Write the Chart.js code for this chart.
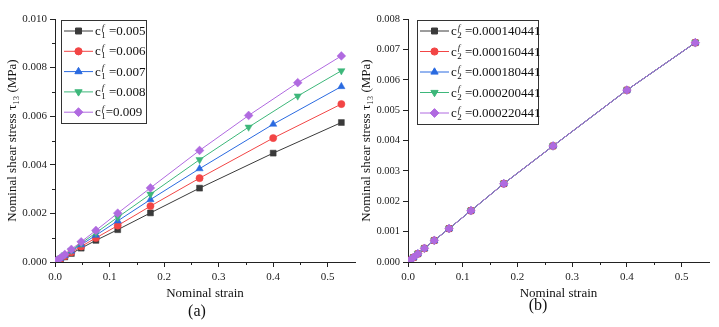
<!DOCTYPE html>
<html>
<head>
<meta charset="utf-8">
<script src="https://cdn.jsdelivr.net/npm/chart.js@4"></script>
<style>
  body { margin: 0; background: #fff; }
  #wrap { position: relative; width: 719px; height: 327px; }
  canvas { position: absolute; top: 0; }
  .tag { position: absolute; font: 16px "Liberation Serif", serif; color: #111; line-height: 16px; text-align: center; width: 40px; }
</style>
</head>
<body>
<div id="wrap">
  <canvas id="chartA" width="360" height="327" style="left:0"></canvas>
  <canvas id="chartB" width="359" height="327" style="left:360px"></canvas>
  <div class="tag" style="left:177px; top:303px">(a)</div>
  <div class="tag" style="left:518px; top:297px">(b)</div>
</div>
<script>
// datos
const strain = [0, 0.004, 0.01, 0.018, 0.03, 0.048, 0.075, 0.115, 0.175, 0.265, 0.4, 0.525];
const strainLong = [0, 0.004, 0.01, 0.018, 0.03, 0.048, 0.075, 0.115, 0.175, 0.265, 0.355, 0.445, 0.525];

// (a) c1f
const labelsA = ['=0.005', '=0.006', '=0.007', '=0.008', '=0.009'];
const stressA1 = [0, 0.00005, 0.00012, 0.00021, 0.00035, 0.00057, 0.00089, 0.00133, 0.00202, 0.00304, 0.00448, 0.00574];
const stressA2 = [0, 0.000055, 0.00013, 0.00024, 0.0004, 0.00064, 0.00099, 0.0015, 0.0023, 0.00345, 0.0051, 0.0065];
const stressA3 = [0, 0.00006, 0.00015, 0.00027, 0.00045, 0.00071, 0.0011, 0.00169, 0.00257, 0.00384, 0.00567, 0.00722];
const stressA4 = [0, 0.000065, 0.00016, 0.00029, 0.00048, 0.00077, 0.0012, 0.00184, 0.00279, 0.00421, 0.00555, 0.00683, 0.00787];
const stressA5 = [0, 0.00007, 0.00017, 0.00031, 0.00052, 0.00083, 0.0013, 0.00201, 0.00305, 0.00459, 0.00603, 0.00738, 0.00848];

// (b) c2f  (las cinco curvas coinciden)
const labelsB = ['=0.000140441', '=0.000160441', '=0.000180441', '=0.000200441', '=0.000220441'];
const stressB = [0, 0.00006, 0.00015, 0.00027, 0.00045, 0.00071, 0.0011, 0.00169, 0.00258, 0.00382, 0.00566, 0.00722];

const ticksXA = [0, 0.1, 0.2, 0.3, 0.4, 0.5];
const ticksYA = [0, 0.002, 0.004, 0.006, 0.008, 0.010];
const ticksYB = [0, 0.001, 0.002, 0.003, 0.004, 0.005, 0.006, 0.007, 0.008];

const colors = ['#3a3a3a', '#f24545', '#2a6ae0', '#3db77a', '#b06ae0'];
const markers = [
  { pointStyle: 'rect', rotation: 0, radius: 4.2 },
  { pointStyle: 'circle', rotation: 0, radius: 3.6 },
  { pointStyle: 'triangle', rotation: 0, radius: 4.2 },
  { pointStyle: 'triangle', rotation: 180, radius: 4.2 },
  { pointStyle: 'rectRot', rotation: 0, radius: 4.4 }
];

const serif = '"Liberation Serif", "Times New Roman", serif';
const axisColor = '#222';

function toPoints(xs, ys) {
  return ys.map((y, i) => ({ x: xs[i], y: y }));
}

function makeDataset(points, i) {
  const m = markers[i];
  return {
    data: points,
    borderColor: colors[i],
    backgroundColor: colors[i],
    borderWidth: 1,
    tension: 0,
    pointStyle: m.pointStyle,
    pointRotation: m.rotation,
    pointRadius: m.radius,
    pointBackgroundColor: colors[i],
    pointBorderColor: colors[i],
    pointBorderWidth: 0.5,
    order: 4 - i
  };
}

// Leyenda con caja, linea + marcador y texto c^f_n
const boxLegend = {
  id: 'boxLegend',
  afterDraw(chart, args, opts) {
    const ctx = chart.ctx;
    ctx.save();
    ctx.strokeStyle = '#333';
    ctx.lineWidth = 1;
    ctx.strokeRect(opts.x + 0.5, opts.y + 0.5, opts.w, opts.h);
    opts.labels.forEach((txt, i) => {
      const y = opts.y + opts.first + i * opts.gap;
      const x0 = opts.x + 3;
      ctx.strokeStyle = colors[i];
      ctx.lineWidth = 1;
      ctx.beginPath();
      ctx.moveTo(x0, y);
      ctx.lineTo(x0 + 29, y);
      ctx.stroke();
      ctx.fillStyle = colors[i];
      ctx.strokeStyle = colors[i];
      Chart.helpers.drawPoint(ctx, {
        pointStyle: markers[i].pointStyle,
        rotation: markers[i].rotation,
        radius: markers[i].radius,
        borderWidth: 0.5
      }, x0 + 14.5, y);

      let tx = opts.x + 34;
      ctx.fillStyle = '#111';
      ctx.textBaseline = 'alphabetic';
      ctx.font = '13px ' + serif;
      ctx.fillText('c', tx, y + 4);
      tx += ctx.measureText('c').width + 0.5;
      ctx.font = 'italic 9px ' + serif;
      ctx.fillText('f', tx + 0.5, y - 1.5);
      ctx.font = '9px ' + serif;
      ctx.fillText(opts.sub, tx, y + 7);
      tx += 4.5;
      ctx.font = '13px ' + serif;
      ctx.fillText((i < 4 || opts.sub !== '1') ? ' ' + txt : txt, tx, y + 4);
    });
    ctx.restore();
  }
};

// marcas menores
const minorTicks = {
  id: 'minorTicks',
  afterDraw(chart, args, opts) {
    const ctx = chart.ctx;
    const sx = chart.scales.x, sy = chart.scales.y;
    ctx.save();
    ctx.strokeStyle = axisColor;
    ctx.lineWidth = 1;
    ctx.beginPath();
    (opts.x || []).forEach(v => {
      const px = Math.round(sx.getPixelForValue(v)) + 0.5;
      ctx.moveTo(px, sy.bottom);
      ctx.lineTo(px, sy.bottom + 3);
    });
    (opts.y || []).forEach(v => {
      const py = Math.round(sy.getPixelForValue(v)) + 0.5;
      ctx.moveTo(sx.left, py);
      ctx.lineTo(sx.left - 3, py);
    });
    ctx.stroke();
    ctx.restore();
  }
};

function makeOptions(cfg) {
  return {
    responsive: false,
    animation: false,
    devicePixelRatio: 1,
    layout: { padding: { top: 19, right: cfg.padRight, left: 0, bottom: 0 } },
    plugins: {
      legend: { display: false },
      tooltip: { enabled: false },
      boxLegend: cfg.legend,
      minorTicks: cfg.minor
    },
    scales: {
      x: {
        type: 'linear',
        min: 0,
        max: 0.55,
        afterFit: s => { s.height = 65; s.paddingLeft = 0; s.paddingRight = 0; },
        afterBuildTicks: s => { s.ticks = ticksXA.map(v => ({ value: v })); },
        ticks: {
          autoSkip: false,
          maxRotation: 0,
          padding: 4,
          color: axisColor,
          font: { family: serif, size: 11 },
          callback: v => v.toFixed(1)
        },
        grid: { drawOnChartArea: false, drawTicks: true, tickLength: 5, tickColor: axisColor },
        border: { display: true, color: axisColor, width: 1 },
        title: {
          display: true,
          text: 'Nominal strain',
          color: '#111',
          font: { family: serif, size: 13 },
          padding: { top: 0, bottom: 26 }
        }
      },
      y: {
        type: 'linear',
        min: 0,
        max: cfg.yMax,
        afterFit: s => { s.width = cfg.yWidth; s.paddingTop = 0; s.paddingBottom = 0; },
        afterBuildTicks: s => { s.ticks = cfg.yTicks.map(v => ({ value: v })); },
        ticks: {
          autoSkip: false,
          padding: 3,
          color: axisColor,
          font: { family: serif, size: cfg.yFont },
          callback: v => v.toFixed(3)
        },
        grid: { drawOnChartArea: false, drawTicks: true, tickLength: 5, tickColor: axisColor },
        border: { display: true, color: axisColor, width: 1 },
        title: {
          display: true,
          text: 'Nominal shear stress \u03c4\u2081\u2083 (MPa)',
          color: '#111',
          font: { family: serif, size: 13 },
          padding: { top: cfg.yTitlePad, bottom: 0 }
        }
      }
    }
  };
}

const dataA = [
  toPoints(strain, stressA1),
  toPoints(strain, stressA2),
  toPoints(strain, stressA3),
  toPoints(strainLong, stressA4),
  toPoints(strainLong, stressA5)
];

new Chart(document.getElementById('chartA').getContext('2d'), {
  type: 'line',
  data: { datasets: dataA.map((pts, i) => makeDataset(pts, i)) },
  options: makeOptions({
    padRight: 5,
    yMax: 0.010,
    yWidth: 55,
    yFont: 11,
    yTitlePad: 5,
    yTicks: ticksYA,
    legend: { x: 61, y: 20, w: 85, h: 103, first: 11, gap: 20.3, sub: '1', labels: labelsA },
    minor: { x: [0.05, 0.15, 0.25, 0.35, 0.45], y: [0.001, 0.003, 0.005, 0.007, 0.009] }
  }),
  plugins: [boxLegend, minorTicks]
});

new Chart(document.getElementById('chartB').getContext('2d'), {
  type: 'line',
  data: { datasets: labelsB.map((l, i) => makeDataset(toPoints(strain, stressB), i)) },
  options: makeOptions({
    padRight: 10,
    yMax: 0.008,
    yWidth: 48,
    yFont: 10.5,
    yTitlePad: -1,
    yTicks: ticksYB,
    legend: { x: 57, y: 20, w: 121, h: 104, first: 11, gap: 20.5, sub: '2', labels: labelsB },
    minor: { x: [0.05, 0.15, 0.25, 0.35, 0.45], y: [] }
  }),
  plugins: [boxLegend, minorTicks]
});
</script>
</body>
</html>
